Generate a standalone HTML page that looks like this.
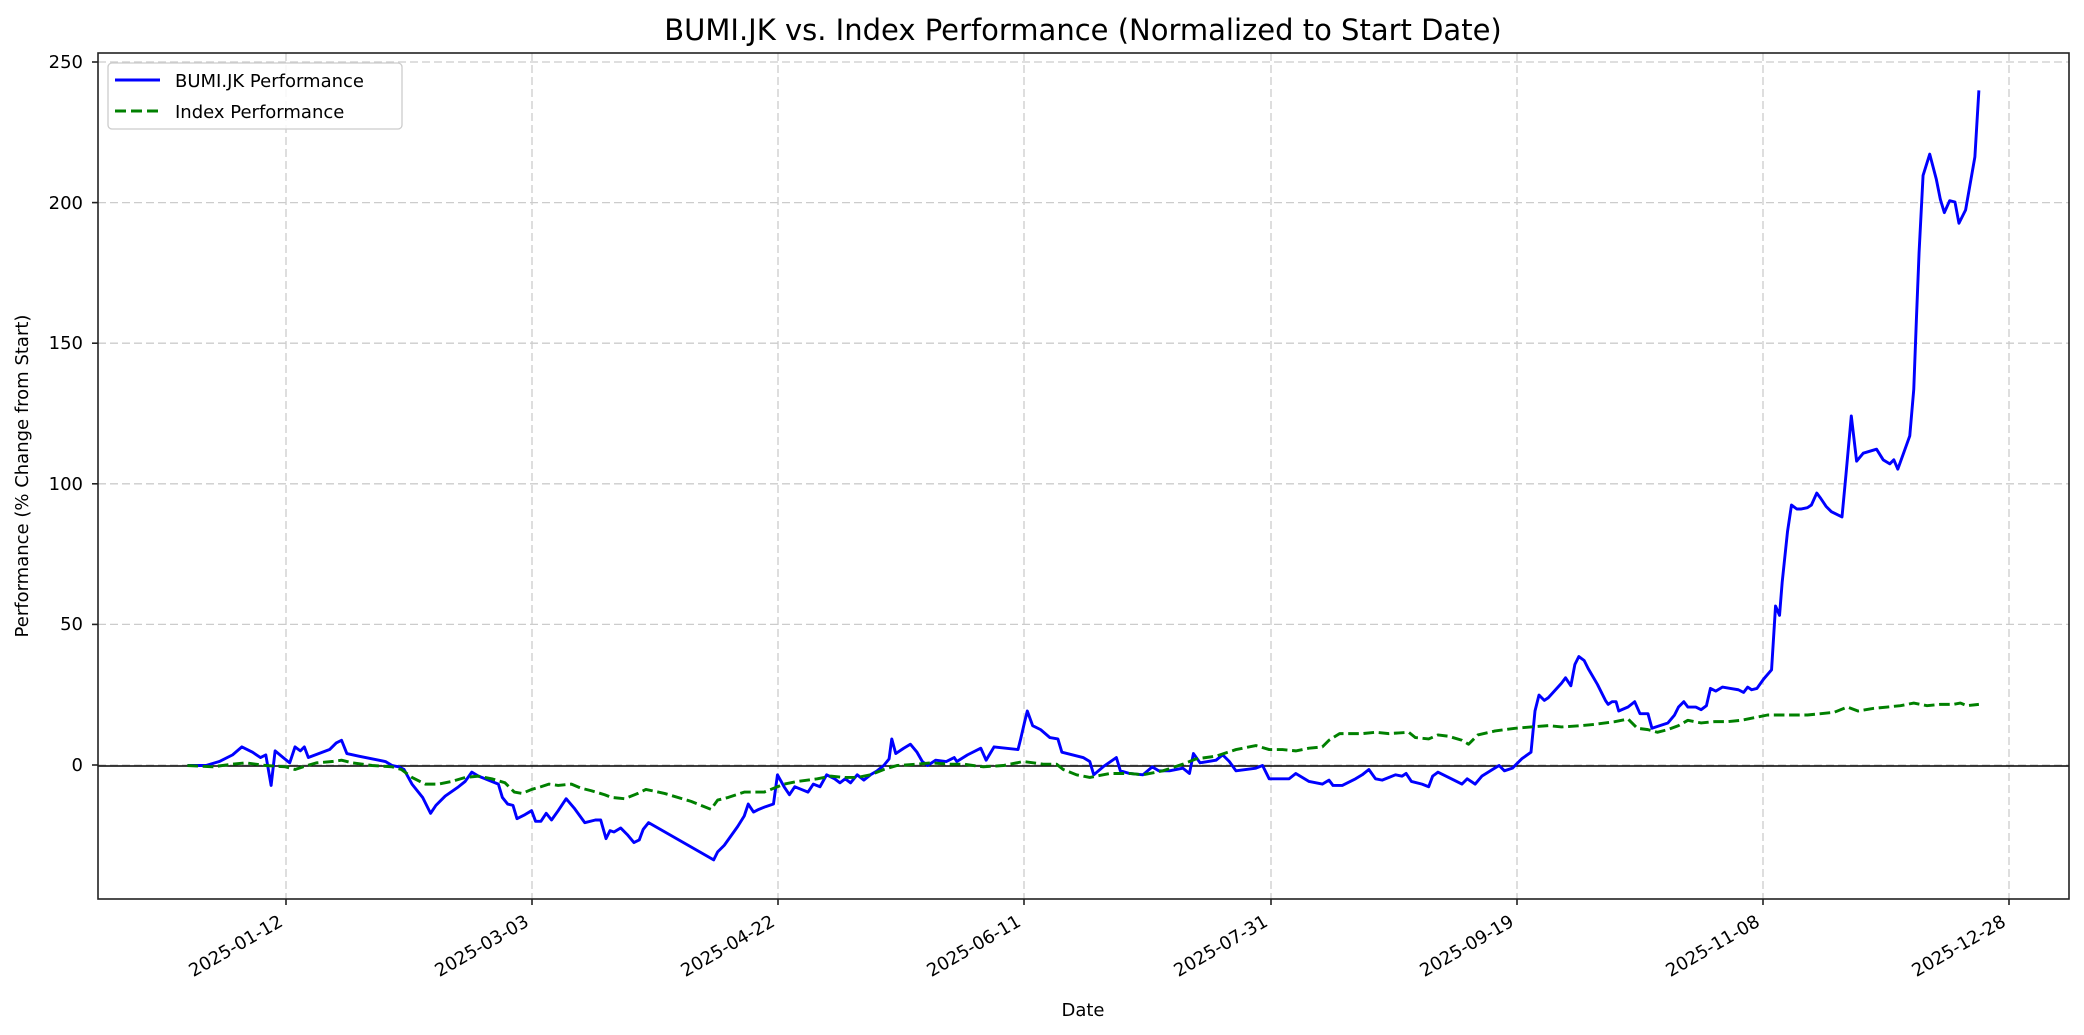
<!DOCTYPE html>
<html><head><meta charset="utf-8"><style>
html,body{margin:0;padding:0;background:#fff;}
svg{display:block;font-family:"DejaVu Sans","Liberation Sans",sans-serif;}
</style></head><body>
<svg width="2084" height="1035" viewBox="0 0 2084 1035" xmlns="http://www.w3.org/2000/svg">
<rect width="2084" height="1035" fill="#fff"/>
<text x="1083" y="40" font-size="29" text-anchor="middle" fill="#000">BUMI.JK vs. Index Performance (Normalized to Start Date)</text>
<!-- grid -->
<g stroke="#ccc" stroke-width="1.3" stroke-dasharray="8,4">
<line x1="98" x2="2069" y1="62" y2="62"/><line x1="98" x2="2069" y1="202.6" y2="202.6"/>
<line x1="98" x2="2069" y1="343.2" y2="343.2"/><line x1="98" x2="2069" y1="483.8" y2="483.8"/>
<line x1="98" x2="2069" y1="624.4" y2="624.4"/><line x1="98" x2="2069" y1="765" y2="765"/>
<line y1="53" y2="899" x1="286" x2="286"/><line y1="53" y2="899" x1="532" x2="532"/>
<line y1="53" y2="899" x1="778" x2="778"/><line y1="53" y2="899" x1="1024" x2="1024"/>
<line y1="53" y2="899" x1="1271" x2="1271"/><line y1="53" y2="899" x1="1517" x2="1517"/>
<line y1="53" y2="899" x1="1763" x2="1763"/><line y1="53" y2="899" x1="2009" x2="2009"/>
</g>
<line x1="98" x2="2069" y1="766" y2="766" stroke="#000" stroke-width="1.5"/>
<!-- data -->
<g transform="scale(1.329)" fill="none" stroke-linejoin="round">
<polyline stroke="#0000ff" stroke-width="2.2" points="141,576 155,576 165,573 175,568 182,562 190,566 196,570 200,568 204,591 207,565 213,570 218,574 222,562 226,565 229,562 232,570 240,567 248,564 253,559 257,557 261,567 270,569 285,572 290,573 295,576 300,577 304,579 310,590 318,600 324,612 328,606 335,599 345,592 350,588 355,581 360,584 365,586 375,590 378,600 382,605 386,606 389,616 395,613 400,610 403,618 407,618 411,612 415,617 420,610 426,601 432,608 440,619 448,617 452,617 456,631 459,625 462,626 467,623 472,628 477,634 481,632 484,624 488,619 537,647 540,641 545,636 555,622 560,614 563,605 567,611 571,609 576,607 582,605 585,583 590,592 594,598 598,592 603,594 608,596 612,590 617,592 622,583 628,586 632,589 636,586 640,589 645,583 650,587 655,583 660,580 665,576 669,571 671,556 674,567 680,563 685,560 690,566 694,573 698,576 704,572 712,573 718,570 720,573 728,568 738,563 742,572 748,562 766,564 768,556 771,543 773,535 777,546 783,549 790,555 796,556 799,566 815,570 820,573 823,583 830,577 840,570 843,580 850,582 860,583 867,577 872,580 880,580 890,578 895,582 898,567 903,574 915,572 920,568 925,573 930,580 945,578 950,576 955,586 970,586 975,582 980,585 985,588 995,590 1000,587 1003,591 1010,591 1020,586 1025,583 1030,579 1035,586 1040,587 1045,585 1050,583 1055,584 1058,582 1062,588 1070,590 1075,592 1078,584 1082,581 1090,585 1100,590 1104,586 1110,590 1115,584 1123,579 1128,576 1132,580 1138,578 1145,571 1152,566 1155,535 1158,523 1162,527 1165,525 1175,514 1178,510 1182,516 1185,500 1188,494 1192,497 1195,503 1202,515 1205,521 1208,527 1210,530 1213,528 1216,528 1218,535 1225,532 1230,528 1234,537 1240,537 1243,548 1255,544 1260,538 1263,532 1267,528 1270,532 1276,532 1280,534 1284,531 1287,518 1291,520 1296,517 1302,518 1308,519 1312,521 1315,517 1318,519 1322,518 1327,511 1333,504 1336,456 1339,463 1341,438 1345,400 1348,380 1352,383 1355,383 1360,382 1363,380 1367,371 1370,375 1374,381 1378,385 1386,389 1389,357 1393,313 1397,347 1402,341 1412,338 1417,346 1422,349 1425,346 1428,353 1437,328 1440,293 1442,240 1444,190 1447,132 1452,116 1457,135 1460,150 1463,160 1467,151 1471,152 1474,168 1479,158 1486,118 1489,68"/>
<polyline stroke="#008000" stroke-width="2.2" stroke-dasharray="8,3.5" points="141,576 160,577 175,575 185,574 200,576 215,577 222,579 228,577 238,574 250,573 257,572 265,574 280,576 295,577 302,579 310,585 320,590 330,590 340,588 350,585 360,584 370,586 380,589 387,596 393,597 400,594 407,592 413,590 420,591 430,590 437,593 445,595 455,598 460,600 470,601 480,597 486,594 500,597 520,603 535,609 540,602 548,600 560,596 575,596 585,592 590,590 600,588 615,586 625,584 635,585 645,585 655,583 665,579 675,576 690,575 700,574 715,575 725,575 740,577 755,576 770,573 785,575 795,575 800,579 810,583 820,585 835,582 850,582 860,583 875,580 890,575 900,571 915,569 930,564 945,561 955,564 965,564 975,565 985,563 995,562 1000,557 1008,552 1015,552 1025,552 1035,551 1045,552 1060,551 1065,555 1075,556 1082,553 1090,554 1100,557 1105,560 1112,553 1125,550 1140,548 1152,547 1165,546 1175,547 1190,546 1200,545 1215,543 1225,541 1232,548 1240,549 1247,551 1255,549 1263,546 1270,542 1280,544 1290,543 1300,543 1310,542 1320,540 1330,538 1345,538 1360,538 1370,537 1380,536 1390,532 1398,535 1410,533 1420,532 1430,531 1440,529 1450,531 1460,530 1470,530 1475,529 1480,531 1489,530"/>
</g>
<!-- axes frame -->
<rect x="98" y="53" width="1971" height="846" fill="none" stroke="#222" stroke-width="1.6"/>
<!-- y ticks -->
<g stroke="#222" stroke-width="1.6">
<line x1="92" x2="98" y1="62" y2="62"/><line x1="92" x2="98" y1="202.6" y2="202.6"/>
<line x1="92" x2="98" y1="343.2" y2="343.2"/><line x1="92" x2="98" y1="483.8" y2="483.8"/>
<line x1="92" x2="98" y1="624.4" y2="624.4"/><line x1="92" x2="98" y1="765" y2="765"/>
<line y1="899" y2="905" x1="286" x2="286"/><line y1="899" y2="905" x1="532" x2="532"/>
<line y1="899" y2="905" x1="778" x2="778"/><line y1="899" y2="905" x1="1024" x2="1024"/>
<line y1="899" y2="905" x1="1271" x2="1271"/><line y1="899" y2="905" x1="1517" x2="1517"/>
<line y1="899" y2="905" x1="1763" x2="1763"/><line y1="899" y2="905" x1="2009" x2="2009"/>
</g>
<g font-size="18" text-anchor="end" fill="#000">
<text x="83" y="68">250</text><text x="83" y="209">200</text><text x="83" y="349">150</text>
<text x="83" y="490">100</text><text x="83" y="630">50</text><text x="83" y="771">0</text>
</g>
<g font-size="18" text-anchor="end" fill="#000">
<text transform="translate(284,925) rotate(-30)">2025-01-12</text>
<text transform="translate(530,925) rotate(-30)">2025-03-03</text>
<text transform="translate(776,925) rotate(-30)">2025-04-22</text>
<text transform="translate(1022,925) rotate(-30)">2025-06-11</text>
<text transform="translate(1269,925) rotate(-30)">2025-07-31</text>
<text transform="translate(1515,925) rotate(-30)">2025-09-19</text>
<text transform="translate(1761,925) rotate(-30)">2025-11-08</text>
<text transform="translate(2007,925) rotate(-30)">2025-12-28</text>
</g>
<text x="1083" y="1016" font-size="18" text-anchor="middle">Date</text>
<text transform="translate(28,476) rotate(-90)" font-size="18" text-anchor="middle">Performance (% Change from Start)</text>
<!-- legend -->
<rect x="108" y="63" width="294" height="66" rx="4" fill="#fff" fill-opacity="0.85" stroke="#ccc" stroke-width="1.3"/>
<line x1="115" x2="160" y1="80" y2="80" stroke="#0000ff" stroke-width="3"/>
<line x1="115" x2="160" y1="111" y2="111" stroke="#008000" stroke-width="3" stroke-dasharray="11,5"/>
<text x="175" y="87" font-size="18">BUMI.JK Performance</text>
<text x="175" y="118" font-size="18">Index Performance</text>
</svg>
</body></html>
